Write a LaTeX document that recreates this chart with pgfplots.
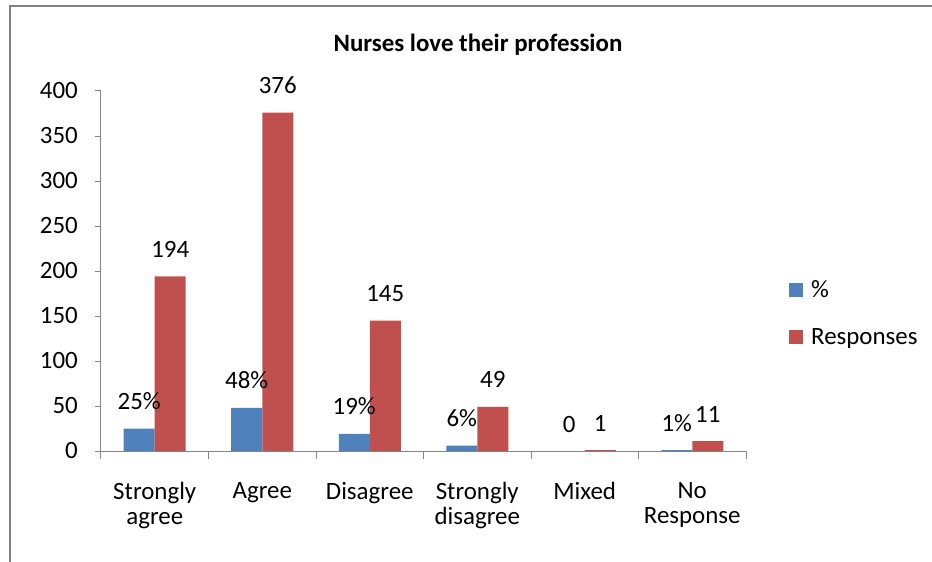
\documentclass[border=0pt]{standalone}
\usepackage{pgfplots}
\pgfplotsset{compat=1.18}
\usepackage{fontspec}
\setmainfont{Carlito}
\definecolor{barblue}{HTML}{4F81BD}
\definecolor{barred}{HTML}{C0504D}
\definecolor{axgray}{HTML}{868686}
\definecolor{framegray}{HTML}{808080}

\pgfplotstableread{
x y label
0 25 25\%
1 48 48\%
2 19 19\%
3 6 6\%
4 0 0
5 1 1\%
}\pct
\pgfplotstableread{
x y label
0 194 194
1 376 376
2 145 145
3 49 49
4 1 1
5 11 11
}\resp

\begin{document}
\begin{tikzpicture}
\path[use as bounding box] (-101bp,-111bp) rectangle (831bp,451bp);
\draw[line width=2.5bp, color=framegray] (-91bp,-112bp) -- (-91bp,445bp) -- (832bp,445bp);
\node[font=\bfseries\fontsize{25}{30}\selectfont, anchor=base, inner sep=0pt] at (377bp,399bp) {Nurses love their profession};
\begin{axis}[
  at={(0,0)}, anchor=south west,
  scale only axis, width=645bp, height=360bp,
  xmin=-0.5, xmax=5.5, ymin=0, ymax=400,
  axis lines=left,
  axis line style={-, axgray, line width=1bp},
  ybar=0pt, bar width=31bp,
  xtick={0,1,2,3,4,5},
  xticklabels={{Strongly\\agree},Agree,Disagree,{Strongly\\disagree},Mixed,{No\\Response}},
  major x tick style={draw=none},
  minor xtick={-0.5,0.5,1.5,2.5,3.5,4.5,5.5},
  minor x tick style={axgray, line width=1bp},
  tick align=outside,
  major tick length=6bp, minor tick length=8bp,
  ytick={0,50,100,150,200,250,300,350,400},
  y tick style={axgray, line width=1bp},
  xticklabel style={align=center, font=\fontsize{25}{25}\selectfont, anchor=north, inner sep=0pt, yshift=-25bp},
  yticklabel style={font=\fontsize{25}{30}\selectfont, anchor=east, inner sep=0pt, xshift=-17bp},
  /pgf/number format/assume math mode=true,
  point meta=explicit symbolic,
  nodes near coords={\pgfplotspointmeta},
  every node near coord/.append style={font=\fontsize{25}{30}\selectfont, anchor=base, inner sep=0pt, yshift=19bp, black},
  legend style={at={(1.062,0.378)}, anchor=west, draw=none, fill=none,
    font=\fontsize{25}{30}\selectfont, row sep=25bp,
    nodes={inner sep=0pt, text height=17bp, text depth=5bp}},
  legend cell align=left,
  legend image code/.code={\fill[#1] (0bp,-6bp) rectangle (14bp,8bp); \path (22bp,0bp);},
]
\addplot[fill=barblue, draw=none] table[x=x, y=y, meta=label] {\pct};
\addplot[fill=barred, draw=none] table[x=x, y=y, meta=label] {\resp};
\legend{\%, Responses}
\end{axis}
\end{tikzpicture}
\end{document}
